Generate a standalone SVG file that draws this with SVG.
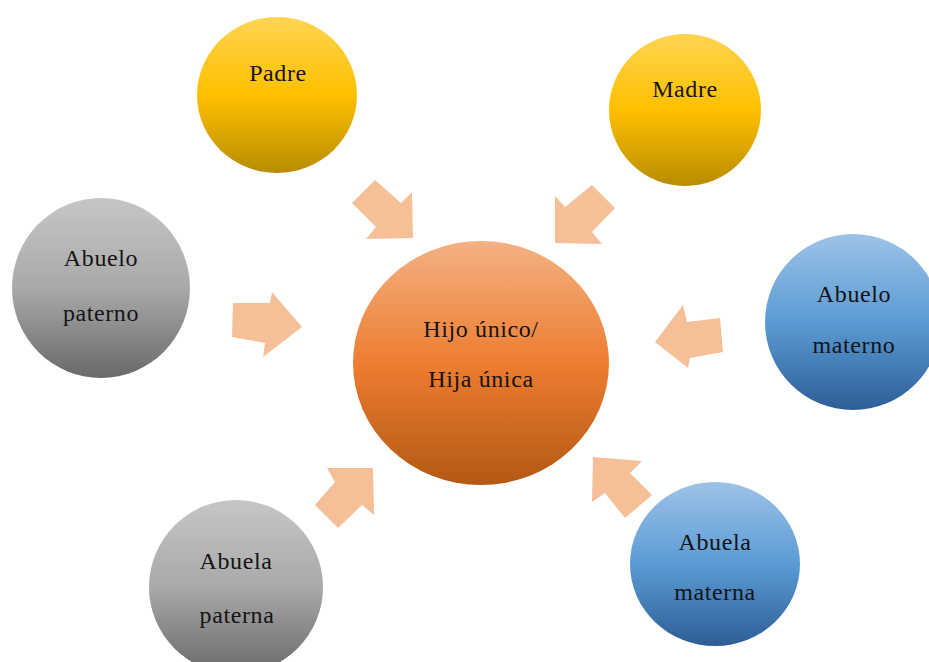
<svg xmlns="http://www.w3.org/2000/svg" width="929" height="662" viewBox="0 0 929 662">
  <defs>
    <linearGradient id="gYellow" x1="0" y1="0" x2="0" y2="1">
      <stop offset="0" stop-color="#FFD452"/>
      <stop offset="0.5" stop-color="#FFC000"/>
      <stop offset="1" stop-color="#B88C00"/>
    </linearGradient>
    <linearGradient id="gGray" x1="0" y1="0" x2="0" y2="1">
      <stop offset="0" stop-color="#C6C6C6"/>
      <stop offset="0.5" stop-color="#A9A9A9"/>
      <stop offset="1" stop-color="#696969"/>
    </linearGradient>
    <linearGradient id="gBlue" x1="0" y1="0" x2="0" y2="1">
      <stop offset="0" stop-color="#9DC3E6"/>
      <stop offset="0.5" stop-color="#5B9BD5"/>
      <stop offset="1" stop-color="#2D5D96"/>
    </linearGradient>
    <linearGradient id="gOrange" x1="0" y1="0" x2="0" y2="1">
      <stop offset="0" stop-color="#F4B183"/>
      <stop offset="0.5" stop-color="#ED7D31"/>
      <stop offset="1" stop-color="#B35813"/>
    </linearGradient>
  </defs>
  <style>
    .lbl { font-family: "Liberation Serif", "Times New Roman", serif; font-size: 24px; fill: #141414; text-anchor: middle; letter-spacing: 0.6px; }
    .arrow { fill: #F5BF98; }
  </style>
  <rect width="929" height="662" fill="#FFFFFF"/>

  <!-- block arrows pointing at the centre -->
  <g id="connectors">
    <polygon class="arrow" points="375,180 401,203 412,192 413,238 366,239 376,227 352,203"/>
    <polygon class="arrow" points="592,185 615,208 592,232 602,244 555,243 555,196 565,207"/>
    <polygon class="arrow" points="233,303 270,303 272,292 302,327 263,357 265,343 232,337"/>
    <polygon class="arrow" points="720,318 687,322 683,305 655,342 688,368 690,358 723,352"/>
    <polygon class="arrow" points="373,468 374,515 362,505 338,528 315,505 335,482 327,468"/>
    <polygon class="arrow" points="593,457 642,461 630,473 652,495 625,518 605,493 592,502"/>
  </g>

  <g id="centro">
    <ellipse cx="481" cy="363" rx="128" ry="122" fill="url(#gOrange)"/>
    <text class="lbl" x="481" y="337">Hijo único/</text>
    <text class="lbl" x="481" y="387">Hija única</text>
  </g>

  <g id="padre">
    <ellipse cx="277" cy="95" rx="80" ry="78" fill="url(#gYellow)"/>
    <text class="lbl" x="278" y="81">Padre</text>
  </g>

  <g id="madre">
    <ellipse cx="685" cy="110" rx="76" ry="76" fill="url(#gYellow)"/>
    <text class="lbl" x="685" y="97">Madre</text>
  </g>

  <g id="abuelo-paterno">
    <ellipse cx="101" cy="288" rx="89" ry="90" fill="url(#gGray)"/>
    <text class="lbl" x="101" y="266">Abuelo</text>
    <text class="lbl" x="101" y="321">paterno</text>
  </g>

  <g id="abuelo-materno">
    <ellipse cx="853" cy="322" rx="88" ry="88" fill="url(#gBlue)"/>
    <text class="lbl" x="854" y="302">Abuelo</text>
    <text class="lbl" x="854" y="353">materno</text>
  </g>

  <g id="abuela-paterna">
    <ellipse cx="236" cy="587" rx="87" ry="87" fill="url(#gGray)"/>
    <text class="lbl" x="236" y="569">Abuela</text>
    <text class="lbl" x="237" y="623">paterna</text>
  </g>

  <g id="abuela-materna">
    <ellipse cx="715" cy="564" rx="85" ry="82" fill="url(#gBlue)"/>
    <text class="lbl" x="715" y="550">Abuela</text>
    <text class="lbl" x="715" y="600">materna</text>
  </g>
</svg>
